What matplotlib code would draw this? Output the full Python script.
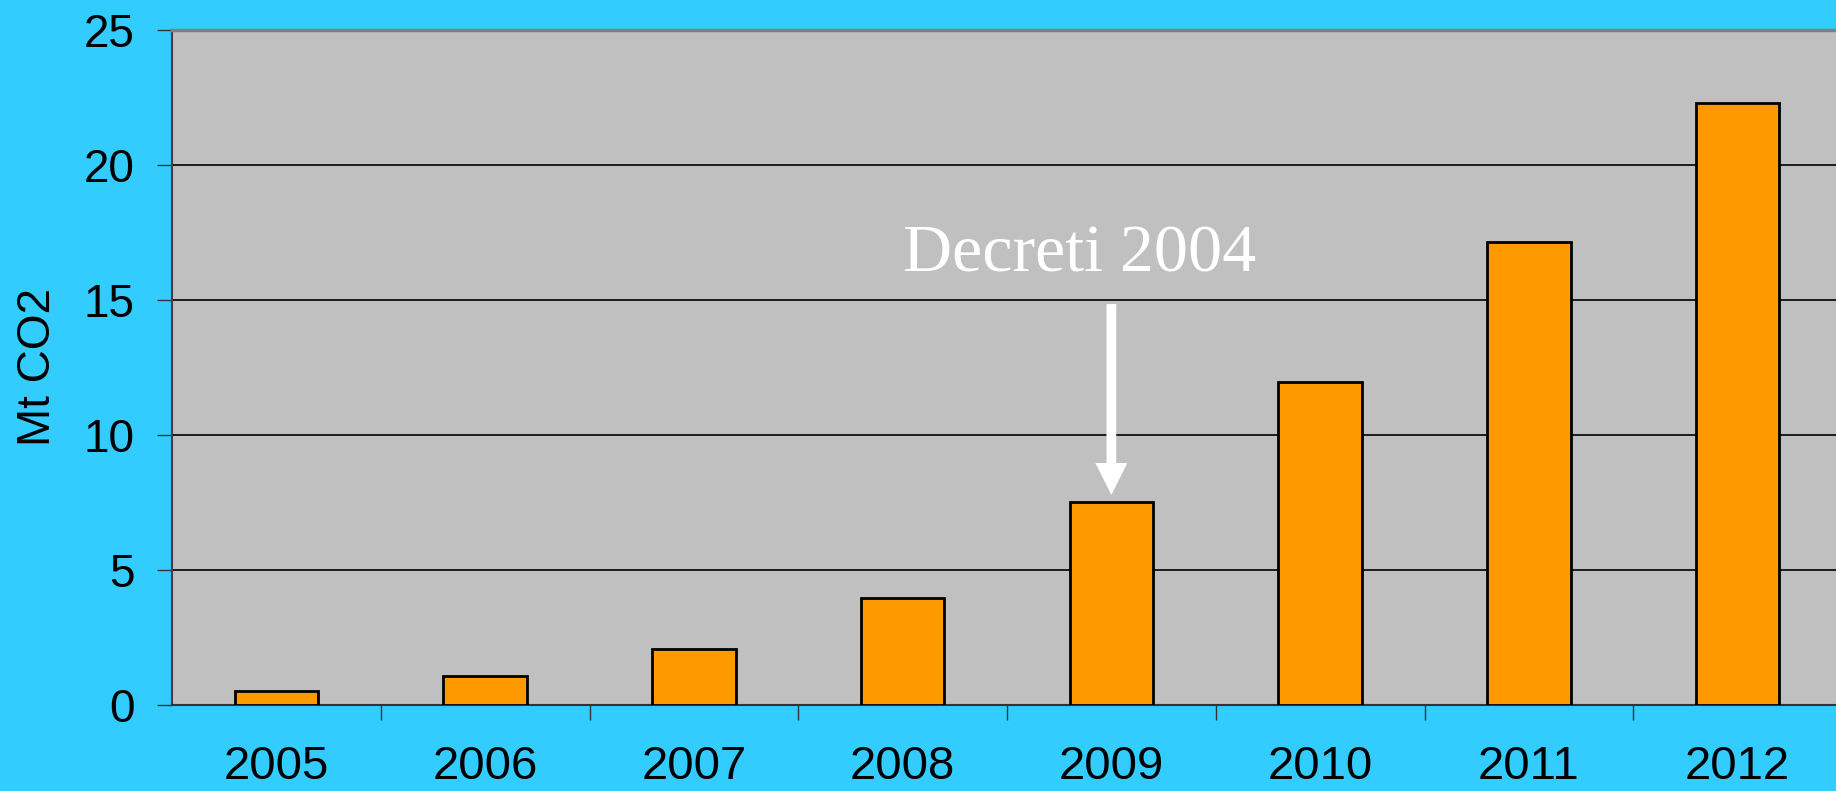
import matplotlib
matplotlib.use("Agg")
import matplotlib.pyplot as plt
import numpy as np

years = ["2005", "2006", "2007", "2008", "2009", "2010", "2011", "2012"]
values = [0.52, 1.09, 2.08, 3.95, 7.51, 11.98, 17.14, 22.3]
yticks = [0, 5, 10, 15, 20, 25]
annot_text = "Decreti 2004"
annot_index = 4

plt.rcParams['font.family'] = ['Liberation Sans', 'DejaVu Sans']

fig = plt.figure(figsize=(18.36, 7.91), dpi=100, facecolor='#33CCFF')
ax = fig.add_axes([172/1836, 86/791, 1670/1836, 675/791])
ax.set_facecolor('#C0C0C0')

x = np.arange(len(years))
ax.bar(x, values, width=0.40, color='#FF9900', edgecolor='black', linewidth=2, zorder=3)

ax.set_xlim(-0.5, len(years) - 0.5)
ax.set_ylim(0, 25)
ax.set_yticks(yticks)
ax.set_yticklabels([str(t) for t in yticks], fontsize=33)
ax.yaxis.grid(True, color='black', linewidth=1.2, zorder=1)
ax.set_axisbelow(True)
ax.tick_params(axis='y', direction='out', length=11, width=1, color='#333333', pad=16)

ax.set_xticks(x)
ax.set_xticklabels(years, fontsize=34)
ax.set_xticks(np.arange(0.5, len(years) - 0.5, 1.0), minor=True)
ax.tick_params(axis='x', which='major', length=0, pad=29)
ax.tick_params(axis='x', which='minor', direction='out', length=11, width=1, color='#333333')

ax.set_ylabel("Mt CO2", fontsize=33, labelpad=17)

ax.spines['top'].set_color('#808080')
ax.spines['top'].set_linewidth(2.5)
ax.spines['left'].set_color('#404040')
ax.spines['left'].set_linewidth(1.5)
ax.spines['bottom'].set_color('#333333')
ax.spines['bottom'].set_linewidth(1.5)
ax.spines['right'].set_visible(False)

ax.annotate("", xy=(annot_index, 7.78), xytext=(annot_index, 14.85),
            arrowprops=dict(width=7, headwidth=23, headlength=23,
                            facecolor='white', edgecolor='none', shrink=0),
            zorder=4)
ax.text(3.85, 16.07, annot_text, fontsize=49, color='white', ha='center',
        va='baseline', family=['Liberation Serif', 'DejaVu Serif'], zorder=4)

fig.savefig("out.png", dpi=100, facecolor=fig.get_facecolor())
